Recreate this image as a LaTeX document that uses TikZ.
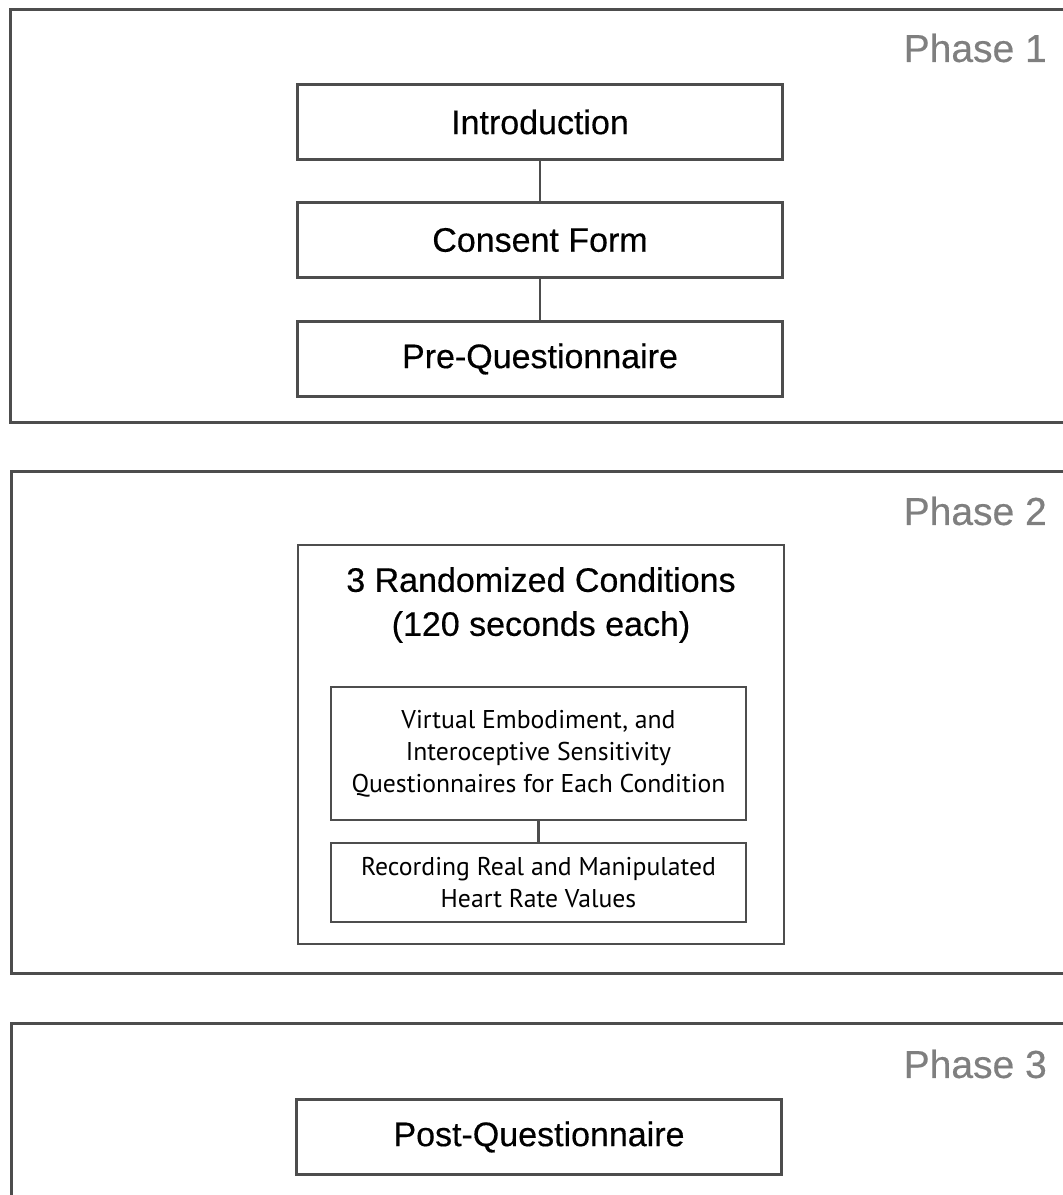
\documentclass[tikz,border=0pt]{standalone}
\usepackage{fontspec}
\setmainfont[FakeBold=0.4]{Liberation Sans}
\newfontfamily\bodyfont{PT Sans}
\usetikzlibrary{positioning}
\definecolor{framegray}{HTML}{4D4D4D}
\definecolor{labelgray}{HTML}{7F7F7F}
\tikzset{
  phaseframe/.style={draw=framegray, line width=3pt},
  phaselabel/.style={anchor=east, inner sep=0pt, text=labelgray,
    font=\fontsize{39}{44}\selectfont},
  stepbox/.style={
    rectangle, draw=framegray, line width=2.5pt, outer sep=0pt,
    minimum width=485pt, minimum height=75pt, inner sep=0pt,
    align=center, font=\fontsize{34}{44}\selectfont
  },
  subbox/.style={
    rectangle, draw=framegray, line width=2.5pt, outer sep=0pt,
    minimum width=415pt, inner sep=0pt,
    align=center, font=\bodyfont\fontsize{25.7}{32}\selectfont
  },
  steplink/.style={draw=framegray, line width=2.5pt}
}
\begin{document}
\begin{tikzpicture}[x=1pt, y=-1pt]
\useasboundingbox (0,0) rectangle (1063,1195);
\clip (0,0) rectangle (1063,1195);

% Phase 1
\draw[phaseframe] (10,9) rectangle (1080,422);
\node[phaselabel] (phaseone) at (1047,48) {Phase 1};
\node[stepbox] (intro) at (540,122) {Introduction};
\node[stepbox, below=43pt of intro] (consent) {Consent Form};
\node[stepbox, below=44pt of consent] (preq) {Pre-Questionnaire};
\draw[steplink] (intro) -- (consent);
\draw[steplink] (consent) -- (preq);

% Phase 2
\draw[phaseframe] (11,471) rectangle (1080,973);
\node[phaselabel] (phasetwo) at (1047,511) {Phase 2};
\node[stepbox, minimum width=486pt, minimum height=399pt] (cond) at (541,744.5) {};
\node[align=center, inner sep=0pt, font=\fontsize{34}{44}\selectfont] (condtitle) at (541,605)
  {3 Randomized Conditions\\(120 seconds each)};
\node[subbox, minimum height=133pt] (quest) at (538.5,753.5)
  {Virtual Embodiment, and\\Interoceptive Sensitivity\\Questionnaires for Each Condition};
\node[subbox, minimum height=79pt, below=23pt of quest] (record)
  {Recording Real and Manipulated\\Heart Rate Values};
\draw[steplink] (quest) -- (record);

% Phase 3
\draw[phaseframe] (11,1023) rectangle (1080,1210);
\node[phaselabel] (phasethree) at (1047,1064) {Phase 3};
\node[stepbox] (postq) at (539,1137) {Post-Questionnaire};
\end{tikzpicture}
\end{document}
